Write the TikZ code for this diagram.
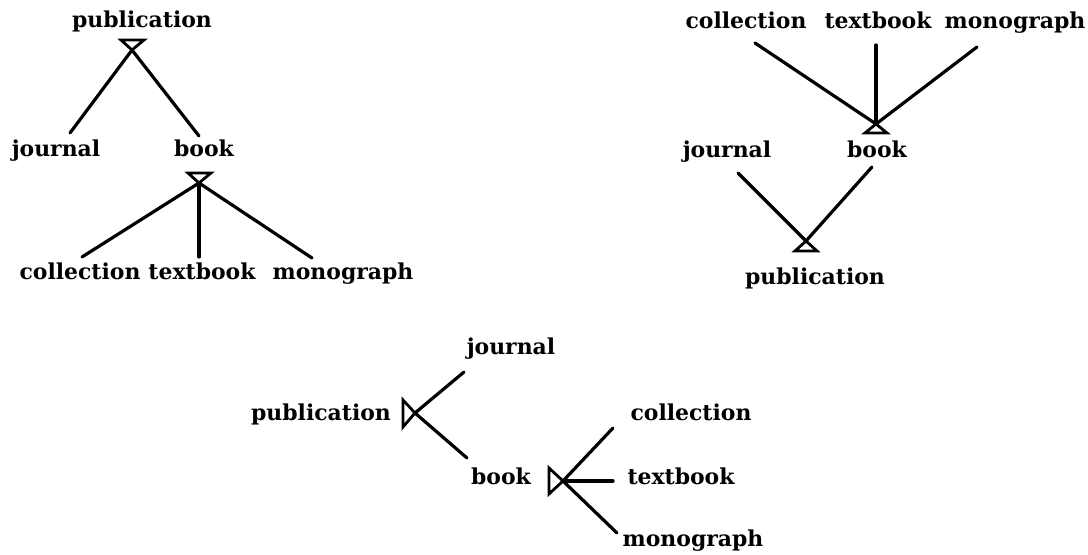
\documentclass[tikz,border=0pt]{standalone}
\usepackage{fontspec}
\setmainfont{DejaVu Serif}
\begin{document}
\begin{tikzpicture}[x=1bp,y=-1bp,
  lbl/.style={font=\fontsize{22}{26}\selectfont\bfseries, inner sep=0pt,
    text height=16bp, text depth=5bp},
  edge/.style={line width=3.2bp, line cap=round},
  tri/.style={line width=2.8bp, line join=miter}]
\useasboundingbox (0,0) rectangle (1088,555);

% ---- tree 1: publication at the top, classes below
\node[lbl] (p1) at (142,22) {publication};
\node[lbl] (j1) at (56,151) {journal};
\node[lbl] (b1) at (204,151) {book};
\node[lbl] (c1) at (80,274) {collection};
\node[lbl] (t1) at (202,274) {textbook};
\node[lbl] (m1) at (343,274) {monograph};
\coordinate (a1) at (132,50);
\coordinate (a2) at (199,183);
\draw[tri] (121,40) -- (144,40) -- (a1) -- cycle;
\draw[tri] (188,173) -- (211,173) -- (a2) -- cycle;
\coordinate (ej1) at (70,133);
\coordinate (eb1) at (199,136);
\coordinate (ec1) at (82,257);
\coordinate (et1) at (199,257);
\coordinate (em1) at (312,258);
\draw[edge] (a1) -- (ej1);
\draw[edge] (a1) -- (eb1);
\draw[edge] (a2) -- (ec1);
\draw[edge] (a2) -- (et1);
\draw[edge] (a2) -- (em1);

% ---- tree 2: subclasses on top, publication at the bottom
\node[lbl] (c2) at (746,23) {collection};
\node[lbl] (t2) at (878,23) {textbook};
\node[lbl] (m2) at (1015,23) {monograph};
\node[lbl] (b2) at (877,152) {book};
\node[lbl] (j2) at (727,152) {journal};
\node[lbl] (p2) at (815,279) {publication};
\coordinate (a3) at (876,124);
\coordinate (a4) at (806,241);
\draw[tri] (865,133) -- (887,133) -- (a3) -- cycle;
\draw[tri] (795,251) -- (817,251) -- (a4) -- cycle;
\coordinate (ec2) at (755,43);
\coordinate (et2) at (876,45);
\coordinate (em2) at (977,47);
\coordinate (ej2) at (738,173);
\coordinate (eb2) at (872,167);
\draw[edge] (ec2) -- (a3);
\draw[edge] (et2) -- (a3);
\draw[edge] (em2) -- (a3);
\draw[edge] (ej2) -- (a4);
\draw[edge] (eb2) -- (a4);

% ---- tree 3: laid out from left to right
\node[lbl] (p3) at (321,415) {publication};
\node[lbl] (j3) at (511,349) {journal};
\node[lbl] (b3) at (501,479) {book};
\node[lbl] (c3) at (691,415) {collection};
\node[lbl] (t3) at (681,479) {textbook};
\node[lbl] (m3) at (693,541) {monograph};
\coordinate (a5) at (415,413);
\coordinate (a6) at (563,481);
\draw[tri] (403,400) -- (403,427) -- (a5) -- cycle;
\draw[tri] (549,468) -- (549,494) -- (a6) -- cycle;
\coordinate (ej3) at (464,372);
\coordinate (eb3) at (467,458);
\coordinate (ec3) at (613,428);
\coordinate (et3) at (613,481);
\coordinate (em3) at (617,533);
\draw[edge] (a5) -- (ej3);
\draw[edge] (a5) -- (eb3);
\draw[edge] (a6) -- (ec3);
\draw[edge] (a6) -- (et3);
\draw[edge] (a6) -- (em3);
\end{tikzpicture}
\end{document}
